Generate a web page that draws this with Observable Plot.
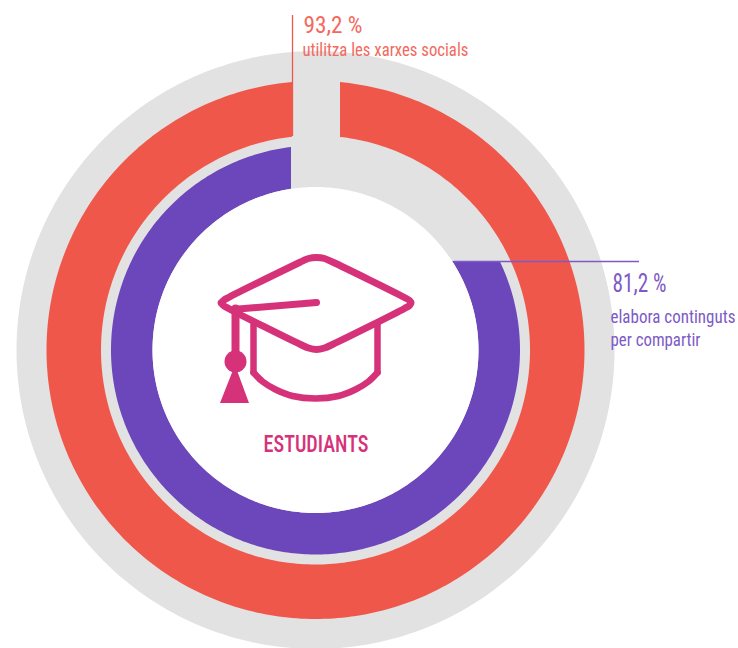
<!DOCTYPE html>
<html>
<head>
<meta charset="utf-8">
<style>html,body{margin:0;padding:0;background:#fff}svg{display:block}</style>
<script src="https://cdn.jsdelivr.net/npm/d3@7"></script>
<script src="https://cdn.jsdelivr.net/npm/@observablehq/plot@0.6"></script>
</head>
<body>
<div id="chart"></div>
<script>
// Values as printed on the chart
const categories = ["utilitza les xarxes socials", "elabora continguts per compartir"];
const shareValues = ["93,2 %", "81,2 %"];
const centreLabel = "ESTUDIANTS";

// Ring geometry
const cx = 315.5, cy = 350;
const redRing = {outer: 269, inner: 214.5, cutRight: 340, cutLeft: 292};
const purpleRing = {outer: 204.5, inner: 163, cutY: 261, cutLeft: 291};

const W = 738, H = 648;
const rad = d => d * Math.PI / 180;

function ringPoints(a0Outer, a1Outer, a0Inner, a1Inner, rOuter, rInner, n = 360) {
  return d3.range(n + 1).map(i => {
    const t = i / n;
    const ao = rad(a0Outer + (a1Outer - a0Outer) * t);
    const ai = rad(a0Inner + (a1Inner - a0Inner) * t);
    return {
      x1: cx + rOuter * Math.sin(ao), y1: cy - rOuter * Math.cos(ao),
      x2: cx + rInner * Math.sin(ai), y2: cy - rInner * Math.cos(ai)
    };
  });
}
const deg = r => r * 180 / Math.PI;
const fromX = (x, r) => deg(Math.asin((x - cx) / r));
const fromY = (y, r) => deg(Math.acos((cy - y) / r));

const greyDisc = ringPoints(0, 360, 0, 360, 299, 0);
const whiteDisc = ringPoints(0, 360, 0, 360, purpleRing.inner, 0);
const redArc = ringPoints(
  fromX(redRing.cutRight, redRing.outer), 360 + fromX(redRing.cutLeft, redRing.outer),
  fromX(redRing.cutRight, redRing.inner), 360 + fromX(redRing.cutLeft, redRing.inner),
  redRing.outer, redRing.inner);
const purpleArc = ringPoints(
  fromY(purpleRing.cutY, purpleRing.outer), 360 + fromX(purpleRing.cutLeft, purpleRing.outer),
  fromY(purpleRing.cutY, purpleRing.inner), 360 + fromX(purpleRing.cutLeft, purpleRing.inner),
  purpleRing.outer, purpleRing.inner);

// Graduation cap pictogram
const capTop = [[300,261.5],[308,258],[316,257],[324,258],[332,261.5],[404,297],[409,300],[410.5,302.5],[409,305],[404,308],[332,344],[324,347.5],[316,349],[308,347.5],[300,344],[228,308],[223,305],[220.5,302.5],[223,300],[228,297],[300,261.5]];
const capLegLeft = [[253,323],[253,372]];
const capLegRight = [[377,323],[377,372]];
const capBowl = [[253,372],[262,381],[275,389],[292,395.5],[315,398],[338,395.5],[355,389],[368,381],[377,372]];
const capBrim = [[232,309],[316,302]];
const capStrap = [[235,308],[235,355]];
const tassel = [[220,403],[235,365],[249,403]];
const knot = [[235,361]];

const RED = "#f0574b", PURPLE = "#6c46bb", GREY = "#e2e2e2", PINK = "#d5327a";
const CORAL = "#f3695e", VIOLET = "#7d5ac6";
const NARROW = "'Roboto Condensed','Liberation Sans Narrow','Liberation Sans',sans-serif";

const ring = (data, fill) => Plot.area(data, {x1: "x1", y1: "y1", x2: "x2", y2: "y2", fill});
const path = (pts, strokeWidth, extra = {}) => Plot.line(pts, {x: d => d[0], y: d => d[1], stroke: PINK, strokeWidth, strokeLinejoin: "round", strokeLinecap: "round", ...extra});
const label = (t, x, y, fill, fontSize, extra = {}) => Plot.text([t], {x: () => x, y: () => y, text: d => d, fill, fontSize, fontFamily: NARROW, textAnchor: "start", lineAnchor: "bottom", ...extra});

const chart = Plot.plot({
  width: W, height: H,
  margin: 0,
  x: {domain: [0, W], range: [0, W], axis: null},
  y: {domain: [0, H], range: [0, H], axis: null},
  style: {background: "#fff"},
  marks: [
    ring(greyDisc, GREY),
    ring(redArc, RED),
    ring(purpleArc, PURPLE),
    ring(whiteDisc, "#fff"),
    Plot.ruleX([redRing.cutLeft], {y1: 15, y2: 136, stroke: RED, strokeWidth: 1.3}),
    Plot.ruleY([purpleRing.cutY], {x1: 454, x2: 639, stroke: VIOLET, strokeWidth: 1.6}),
    path(capLegLeft, 6.5),
    path(capLegRight, 6.5),
    path(capBowl, 6.5, {curve: "catmull-rom"}),
    path(capTop, 7, {curve: "catmull-rom"}),
    path(capBrim, 7),
    path(capStrap, 8),
    Plot.area(tassel, {x1: d => d[0], y1: d => d[1], x2: () => 235, y2: () => 403, fill: PINK}),
    Plot.dot(knot, {x: d => d[0], y: d => d[1], r: 11, fill: PINK}),
    label(shareValues[0], 303, 32, CORAL, 24),
    label(categories[0], 302, 55, CORAL, 19),
    label(shareValues[1], 612, 291, VIOLET, 25),
    label("elabora continguts", 610, 322, VIOLET, 19),
    label("per compartir", 610, 345, VIOLET, 19),
    label(centreLabel, cx, 451, PINK, 23, {textAnchor: "middle", fontWeight: 500})
  ]
});
document.getElementById("chart").append(chart);

// Squeeze each text to the width it has in the reference (its typeface is narrower than any installed one)
const widths = new Map([
  [shareValues[0], 59], [categories[0], 166], [shareValues[1], 54],
  ["elabora continguts", 125], ["per compartir", 90], [centreLabel, 105]
]);
d3.select(chart).selectAll("text").each(function () {
  const w = widths.get(this.textContent);
  if (!w) return;
  const k = w / this.getComputedTextLength();
  const t = this.getAttribute("transform") || "";
  this.setAttribute("transform", `${t} scale(${k.toFixed(4)},1)`);
});
</script>
</body>
</html>
